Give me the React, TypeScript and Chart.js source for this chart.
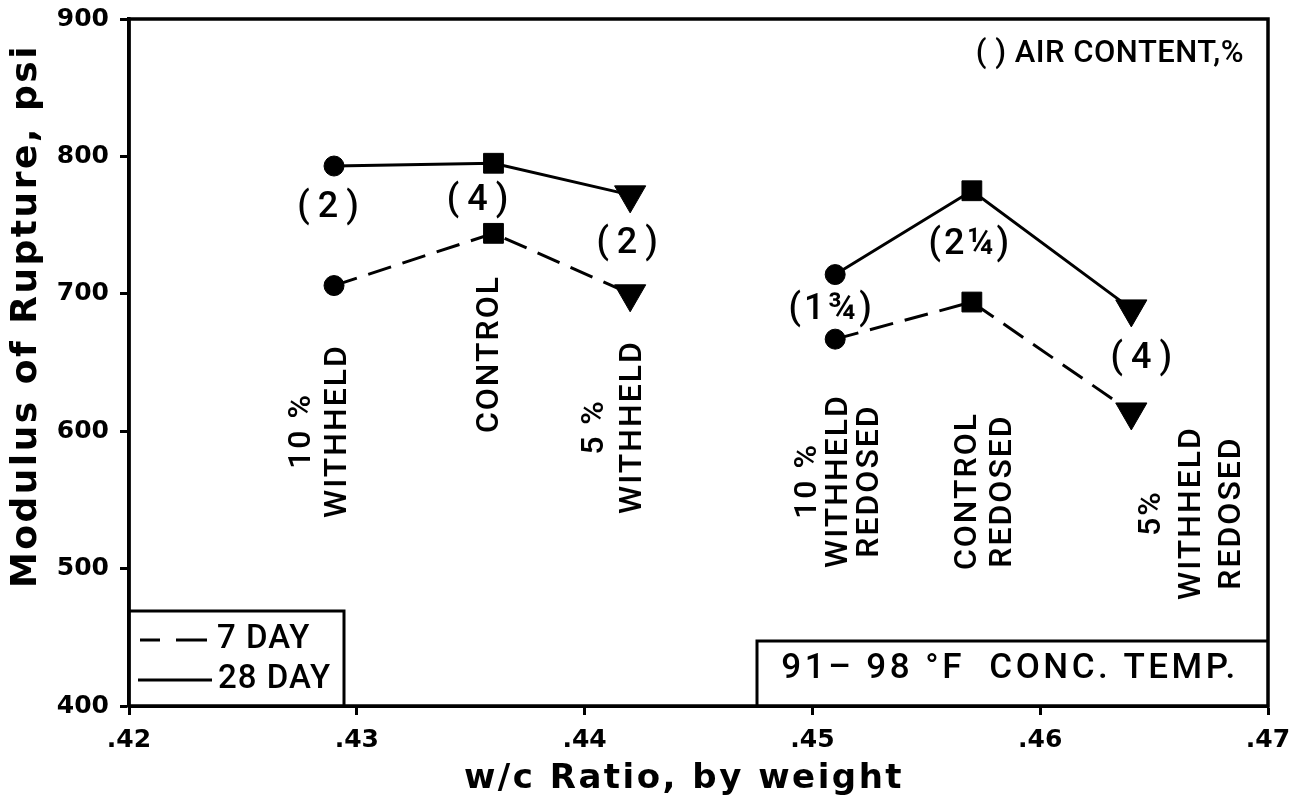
import React, { useEffect, useRef } from 'react';
import { Chart, registerables } from 'chart.js';

Chart.register(...registerables);

// ---- data ----
const groupAx = [0.429, 0.436, 0.442];
const groupBx = [0.451, 0.457, 0.464];
const day7A = [706, 744, 700];
const day7B = [667, 694, 614];
const day28A = [793, 795, 772];
const day28B = [714, 775, 689];
const airContentA = ['(2)', '(4)', '(2)'];
const airContentB = ['(1¾)', '(2¼)', '(4)'];
const mixLabelsA = [['10 %', 'WITHHELD'], ['CONTROL'], ['5 %', 'WITHHELD']];
const mixLabelsB = [['10 %', 'WITHHELD', 'REDOSED'], ['CONTROL', 'REDOSED'], ['5%', 'WITHHELD', 'REDOSED']];
const xTickValues = [0.42, 0.43, 0.44, 0.45, 0.46, 0.47];
const yTickValues = [400, 500, 600, 700, 800, 900];
const legendLabels = ['7 DAY', '28 DAY'];
const airNote = '( ) AIR CONTENT,%';
const tempNote = '91\u2013 98 \u00B0F  CONC. TEMP.';
const xTitle = 'w/c Ratio, by weight';
const yTitle = 'Modulus of Rupture, psi';

// ---- styling / layout ----
const markerStyles = ['circle', 'rect', 'triangle'];
const markerRadii = [10, 14, 18];
const markerRotation = [0, 0, 180];
const airOffsets = [[-6, 42], [-16, 38], [-3, 49], [-5, 35], [-3, 54], [10, 50]];
const mixLayout = [
  { dx: -14, y: 432, gap: 36 },
  { dx: -3, y: 355, gap: 0 },
  { dx: -16, y: 428, gap: 38 },
  { dx: 4, y: 482, gap: 31 },
  { dx: 14, y: 492, gap: 35 },
  { dx: 61, y: 514, gap: 40 },
];
const LBL = 'Roboto, "Liberation Sans", Arial, sans-serif';
const HEAVY = '"DejaVu Sans", sans-serif';

const toPts = (xs: number[], ys: number[]) => xs.map((x, i) => ({ x, y: ys[i] }));

const lineDs = (data: any[], dashed: boolean) => ({
  data,
  borderColor: '#000',
  backgroundColor: '#000',
  borderWidth: 3,
  borderDash: dashed ? [24, 12] : [],
  tension: 0,
  pointStyle: markerStyles,
  pointRadius: markerRadii,
  pointRotation: markerRotation,
  pointBackgroundColor: '#000',
  pointBorderColor: '#000',
  pointBorderWidth: 1,
  fill: false,
  clip: false as any,
});

function setSpacing(ctx: any, v: number) {
  try { ctx.letterSpacing = v + 'px'; } catch (e) { /* ignore */ }
}

const decorPlugin = {
  id: 'decor',
  afterDatasetsDraw(chart: any) {
    const ctx = chart.ctx;
    const ca = chart.chartArea;
    ctx.save();
    ctx.fillStyle = '#000';
    ctx.strokeStyle = '#000';

    // frame
    ctx.lineWidth = 3.5;
    ctx.setLineDash([]);
    ctx.strokeRect(ca.left, ca.top, ca.right - ca.left, ca.bottom - ca.top);

    // air content labels
    const m28A = chart.getDatasetMeta(2).data;
    const m28B = chart.getDatasetMeta(3).data;
    const pts = [...m28A, ...m28B];
    const air = [...airContentA, ...airContentB];
    ctx.font = '500 36px ' + LBL;
    ctx.textAlign = 'center';
    ctx.textBaseline = 'middle';
    air.forEach((t, i) => {
      const sp = t.length > 3 ? 3 : 8;
      setSpacing(ctx, sp);
      const p = pts[i];
      ctx.fillText(t, p.x + airOffsets[i][0] + sp / 2, p.y + airOffsets[i][1]);
    });

    // mix labels (vertical)
    const mix = [...mixLabelsA, ...mixLabelsB];
    ctx.font = '500 32px ' + LBL;
    setSpacing(ctx, 2);
    mix.forEach((lines, i) => {
      const L = mixLayout[i];
      const cx = pts[i].x + L.dx;
      lines.forEach((ln, j) => {
        const lx = cx + (j - (lines.length - 1) / 2) * L.gap;
        ctx.save();
        ctx.translate(lx, L.y);
        ctx.rotate(-Math.PI / 2);
        ctx.fillText(ln, 1, 0);
        ctx.restore();
      });
    });

    // air note top right
    setSpacing(ctx, 0.5);
    ctx.font = '500 31px ' + LBL;
    ctx.textAlign = 'right';
    ctx.fillText(airNote, ca.right - 24, ca.top + 35);

    // legend box
    ctx.lineWidth = 3;
    ctx.beginPath();
    ctx.moveTo(ca.left, ca.bottom - 95);
    ctx.lineTo(ca.left + 215, ca.bottom - 95);
    ctx.lineTo(ca.left + 215, ca.bottom);
    ctx.stroke();
    ctx.setLineDash([20, 16, 31, 100]);
    ctx.beginPath();
    ctx.moveTo(ca.left + 11, ca.bottom - 66);
    ctx.lineTo(ca.left + 78, ca.bottom - 66);
    ctx.stroke();
    ctx.setLineDash([]);
    ctx.beginPath();
    ctx.moveTo(ca.left + 9, ca.bottom - 26);
    ctx.lineTo(ca.left + 83, ca.bottom - 26);
    ctx.stroke();
    ctx.textAlign = 'left';
    ctx.font = '500 33px ' + LBL;
    setSpacing(ctx, 1);
    ctx.fillText(legendLabels[0], ca.left + 88, ca.bottom - 66);
    ctx.fillText(legendLabels[1], ca.left + 89, ca.bottom - 26);

    // temperature box
    ctx.beginPath();
    ctx.moveTo(ca.right, ca.bottom - 65);
    ctx.lineTo(ca.right - 511, ca.bottom - 65);
    ctx.lineTo(ca.right - 511, ca.bottom);
    ctx.stroke();
    ctx.textAlign = 'center';
    ctx.font = '500 35px ' + LBL;
    setSpacing(ctx, 3.5);
    ctx.fillText(tempNote, ca.right - 258, ca.bottom - 37);

    // axis titles
    ctx.font = 'bold 34px ' + HEAVY;
    setSpacing(ctx, 2.5);
    ctx.textAlign = 'center';
    ctx.fillText(xTitle, 684, ca.bottom + 73);
    ctx.save();
    ctx.translate(27, 316);
    ctx.rotate(-Math.PI / 2);
    ctx.font = 'bold 36px ' + HEAVY;
    setSpacing(ctx, 2.5);
    ctx.fillText(yTitle, 0, 0);
    ctx.restore();

    ctx.restore();
  },
};

export default function App() {
  const ref = useRef<HTMLCanvasElement | null>(null);
  useEffect(() => {
    document.body.style.margin = '0';
    const canvas = ref.current;
    if (!canvas) return;
    const chart = new Chart(canvas, {
      type: 'line',
      data: {
        datasets: [
          { label: legendLabels[0] + ' A', ...lineDs(toPts(groupAx, day7A), true) },
          { label: legendLabels[0] + ' B', ...lineDs(toPts(groupBx, day7B), true) },
          { label: legendLabels[1] + ' A', ...lineDs(toPts(groupAx, day28A), false) },
          { label: legendLabels[1] + ' B', ...lineDs(toPts(groupBx, day28B), false) },
        ] as any,
      },
      options: {
        animation: false,
        responsive: false,
        maintainAspectRatio: false,
        layout: { padding: { left: 0, top: 16, right: 25, bottom: 0 } },
        plugins: { legend: { display: false }, tooltip: { enabled: false }, title: { display: false } },
        events: [],
        scales: {
          x: {
            type: 'linear',
            min: 0.42,
            max: 0.47,
            afterFit: (s: any) => { s.height = 96; s.paddingLeft = 0; s.paddingRight = 0; },
            afterBuildTicks: (s: any) => { s.ticks = xTickValues.map((v) => ({ value: v })); },
            ticks: {
              color: '#000',
              font: { family: 'DejaVu Sans', weight: 'bold', size: 25 },
              padding: 10,
              maxRotation: 0,
              autoSkip: false,
              callback: (v: any) => '.' + Math.round(Number(v) * 100),
            },
            grid: { drawOnChartArea: false, drawTicks: true, tickLength: 9, tickWidth: 3, tickColor: '#000', color: '#000' },
            border: { display: true, color: '#000', width: 3 },
          },
          y: {
            type: 'linear',
            min: 400,
            max: 900,
            afterFit: (s: any) => { s.width = 129; s.paddingTop = 0; s.paddingBottom = 0; },
            afterBuildTicks: (s: any) => { s.ticks = yTickValues.map((v) => ({ value: v })); },
            ticks: {
              color: '#000',
              font: { family: 'DejaVu Sans', weight: 'bold', size: 25 },
              padding: 11,
              autoSkip: false,
              callback: (v: any) => String(v),
            },
            grid: { drawOnChartArea: false, drawTicks: true, tickLength: 9, tickWidth: 3, tickColor: '#000', color: '#000' },
            border: { display: true, color: '#000', width: 3.5 },
          },
        },
      } as any,
      plugins: [decorPlugin],
    });
    return () => chart.destroy();
  }, []);
  return (
    <div style={{ position: 'absolute', left: 0, top: 0, width: 1293, height: 802, background: '#fff' }}>
      <canvas ref={ref} width={1293} height={802} style={{ display: 'block' }} />
    </div>
  );
}
